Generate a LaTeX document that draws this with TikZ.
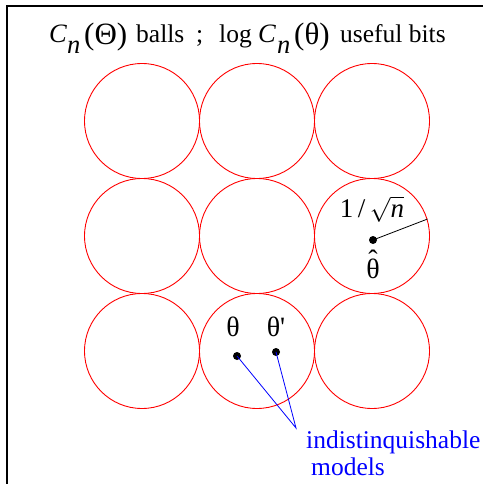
\documentclass[tikz,border=0pt]{standalone}
\usepackage{fontspec}
\setmainfont{Liberation Serif}
\begin{document}
\begin{tikzpicture}[x=1pt,y=-1pt,
  ball/.style={circle,draw=red,line width=0.9pt,minimum size=115pt,inner sep=0pt},
  dotn/.style={circle,fill=black,inner sep=0pt,minimum size=8pt},
  lbl/.style={font=\fontsize{25.5}{28}\selectfont,inner sep=0pt},
  grk/.style={lbl,anchor=base,font=\fontsize{28}{30}\selectfont},
  tt/.style={lbl,anchor=base west},
  it/.style={tt,font=\fontsize{26.5}{28}\selectfont\itshape},
  par/.style={tt,font=\fontsize{31}{33}\selectfont},
  blueline/.style={draw=blue,line width=0.8pt},
  ]
\useasboundingbox (0,0) rectangle (483,484);
\draw[line width=1.3pt] (7,484) -- (7,6) -- (483,6);
% balls
\foreach \r/\y in {1/121,2/236,3/351}
  \foreach \c/\x in {1/142,2/257,3/372}
    \node[ball] (c\r\c) at (\x,\y) {};
% title
\node[it] (tC1) at (49,43) {C};
\node[it] (tn1) at (67,54) {n};
\node[par] (tp1) at (84,45) {(Θ)};
\node[tt] (tballs) at (136,43) {balls};
\node[tt] (tsemi) at (196,43) {;};
\node[tt] (tlog) at (219,43) {log};
\node[it] (tC2) at (258,43) {C};
\node[it] (tn2) at (277,54) {n};
\node[par] (tp2) at (294,45) {(θ)};
\node[tt] (tuse) at (340,43) {useful bits};
% hat theta and radius
\node[dotn] (hat) at (373,240) {};
\draw[line width=0.8pt] (hat.center) -- (c23.17);
\node[lbl,anchor=base,font=\fontsize{27}{30}\selectfont] (rlabel) at (372,217) {1\,/\,$\sqrt{\textit{n}}$};
\node[grk] (hatlabel) at (373,278)
  {\ooalign{θ\cr\hidewidth\raisebox{9pt}{ˆ}\hidewidth\cr}};
% theta, theta'
\node[dotn] (th) at (237,356) {};
\node[dotn] (thp) at (276,352) {};
\node[grk] (thl) at (233,336) {θ};
\node[grk] (thpl) at (276,336) {θ\textquotesingle};
\coordinate (meet) at (296,428);
\draw[blueline] (th.center) -- (meet) -- (thp.center);
\node[tt,text=blue] (ind) at (306,448) {indistinquishable};
\node[tt,text=blue] (mod) at (311,475) {models};
\end{tikzpicture}
\end{document}
